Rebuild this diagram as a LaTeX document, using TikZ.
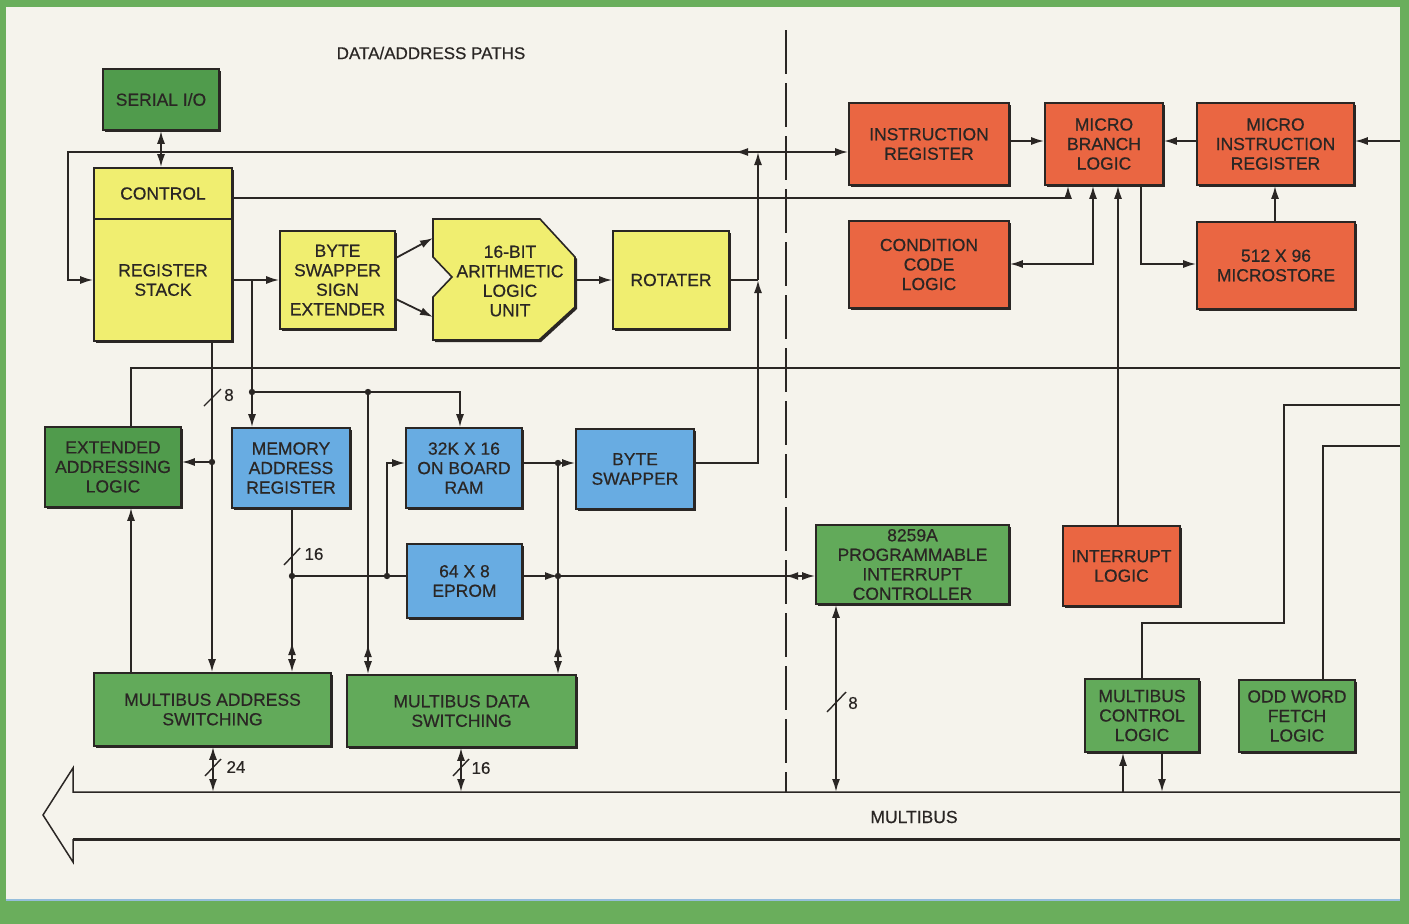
\documentclass[tikz,border=0pt]{standalone}
\usepackage{fontspec}
\setmainfont{Liberation Sans}[FakeBold=0.5]
\usetikzlibrary{arrows.meta,shadows,decorations.markings,calc}
\definecolor{ink}{RGB}{42,38,36}
\definecolor{paper}{RGB}{245,243,236}
\definecolor{frame}{RGB}{106,174,92}
\definecolor{gbox}{RGB}{98,170,90}
\definecolor{gdark}{RGB}{80,155,76}
\definecolor{ybox}{RGB}{240,238,112}
\definecolor{bbox}{RGB}{104,172,226}
\definecolor{rbox}{RGB}{234,102,66}
\definecolor{edgeblue}{RGB}{150,190,220}
\tikzset{
  box/.style={draw=ink, line width=1.6pt, align=center, inner sep=0pt, text=ink,
    font=\fontsize{17.5}{19.5}\selectfont,
    drop shadow={shadow xshift=2pt, shadow yshift=-2pt, fill=ink, opacity=1}},
  line/.style={draw=ink, line width=1.8pt},
  >={Latex[length=13pt,width=8pt]},
  dbl/.style={->, decoration={markings, mark=at position -30pt with {\arrowreversed{Latex[length=13pt,width=8pt]}}}, postaction={decorate}},
  midarrow/.style={decoration={markings, mark=at position 23pt with {\arrow{Latex[length=13pt,width=8pt]}}}, postaction={decorate}},
  num/.style={text=ink, font=\fontsize{17}{19}\selectfont, inner sep=0pt},
  slash/.style={draw=ink, line width=1.4pt},
  jdot/.style={fill=ink}
}
\begin{document}
\begin{tikzpicture}[x=1pt,y=-1pt]
\useasboundingbox (0,0) rectangle (1409,924);
\fill[frame] (0,0) rectangle (1409,924);
\fill[paper] (6,7) rectangle (1400,900);
\draw[edgeblue, line width=1.5pt] (6,900) -- (1400,900);

% title
\node[num, font=\fontsize{17}{19}\selectfont] (title) at (431,53) {DATA/ADDRESS PATHS};

% dashed separator
\coordinate (dashTop) at (786,30);
\coordinate (dashBot) at (786,792);
\draw[ink, line width=1.8pt, dash pattern=on 44pt off 9pt] (dashTop) -- (dashBot);

% ---------- boxes ----------
\node[box, fill=gdark, minimum width=116pt, minimum height=61pt] (sio) at (161,99.5) {SERIAL I/O};
\node[box, fill=ybox, minimum width=138pt, minimum height=51pt] (ctrl) at (163,193.5) {CONTROL};
\node[box, fill=ybox, minimum width=138pt, minimum height=122pt] (reg) at (163,280) {REGISTER\\STACK};
\node[box, fill=ybox, minimum width=115pt, minimum height=98pt] (bsse) at (337.5,280) {BYTE\\SWAPPER\\SIGN\\EXTENDER};

% ALU shape
\fill[ink, shift={(2,2)}] (433,219) -- (540,219) -- (575,257) -- (575,307) -- (539,340) -- (433,340) -- (433,297) -- (452,277) -- (433,257) -- cycle;
\draw[ink, line width=1.6pt, fill=ybox] (433,219) -- (540,219) -- (575,257) -- (575,307) -- (539,340) -- (433,340) -- (433,297) -- (452,277) -- (433,257) -- cycle;
\node[text=ink, align=center, inner sep=0pt, font=\fontsize{17.5}{19.5}\selectfont] (alu) at (510,281) {16-BIT\\ARITHMETIC\\LOGIC\\UNIT};
\coordinate (aluIn1) at (433,238);
\coordinate (aluIn2) at (433,317);
\coordinate (aluOut) at (575,280);

\node[box, fill=ybox, minimum width=116pt, minimum height=98pt] (rot) at (671,280) {ROTATER};

\node[box, fill=rbox, minimum width=160pt, minimum height=82pt] (ir) at (929,144) {INSTRUCTION\\REGISTER};
\node[box, fill=rbox, minimum width=118pt, minimum height=82pt] (mbl) at (1104,144) {MICRO\\BRANCH\\LOGIC};
\node[box, fill=rbox, minimum width=157pt, minimum height=82pt] (mir) at (1275.5,144) {MICRO\\INSTRUCTION\\REGISTER};
\node[box, fill=rbox, minimum width=160pt, minimum height=87pt] (ccl) at (929,264.5) {CONDITION\\CODE\\LOGIC};
\node[box, fill=rbox, minimum width=158pt, minimum height=87pt] (ms) at (1276,265.5) {512 X 96\\MICROSTORE};

\node[box, fill=gdark, minimum width=136pt, minimum height=80pt] (eal) at (113,467) {EXTENDED\\ADDRESSING\\LOGIC};
\node[box, fill=bbox, minimum width=118pt, minimum height=80pt] (mar) at (291,468) {MEMORY\\ADDRESS\\REGISTER};
\node[box, fill=bbox, minimum width=116pt, minimum height=80pt] (ram) at (464,468) {32K X 16\\ON BOARD\\RAM};
\node[box, fill=bbox, minimum width=118pt, minimum height=80pt] (bsw) at (635,469) {BYTE\\SWAPPER};
\node[box, fill=bbox, minimum width=115pt, minimum height=74pt] (eprom) at (464.5,581) {64 X 8\\EPROM};

\node[box, fill=gbox, minimum width=193pt, minimum height=79pt] (pic) at (912.5,564.5) {8259A\\PROGRAMMABLE\\INTERRUPT\\CONTROLLER};
\node[box, fill=rbox, minimum width=117pt, minimum height=80pt] (intl) at (1121.5,566) {INTERRUPT\\LOGIC};

\node[box, fill=gbox, minimum width=237pt, minimum height=73pt] (mas) at (212.5,709.5) {MULTIBUS ADDRESS\\SWITCHING};
\node[box, fill=gbox, minimum width=229pt, minimum height=72pt] (mds) at (461.5,711) {MULTIBUS DATA\\SWITCHING};
\node[box, fill=gbox, minimum width=114pt, minimum height=73pt] (mcl) at (1142,715.5) {MULTIBUS\\CONTROL\\LOGIC};
\node[box, fill=gbox, minimum width=116pt, minimum height=72pt] (owf) at (1297,716) {ODD WORD\\FETCH\\LOGIC};

% ---------- bus ----------
\coordinate (busL) at (73,792);
\coordinate (busR) at (1400,792);
\coordinate (busL2) at (73,839);
\coordinate (busR2) at (1400,839);
\coordinate (busTip) at (43,815);
\draw[ink, line width=1.5pt] (busR) -- (busL) -- (73,768) -- (busTip) -- (73,862) -- (busL2);
\draw[ink, line width=3pt] (busL2) -- (busR2);
\node[num, font=\fontsize{17.5}{19}\selectfont] (mbus) at (914,817) {MULTIBUS};

% ---------- junction coordinates ----------
\coordinate (jTop) at (758,152);
\coordinate (cTL) at (68,152);
\coordinate (cBL) at (68,280);
\coordinate (jRot) at (758,280);
\coordinate (cBsw) at (758,463);
\coordinate (jReg) at (252,280);
\coordinate (jMar) at (252,392);
\coordinate (jMds) at (368,392);
\coordinate (jEal) at (212,462);
\coordinate (j16) at (292,576);
\coordinate (jRom) at (387,576);
\coordinate (jR) at (558,463);
\coordinate (jE) at (558,576);
\coordinate (e141) at (1400,141);
\coordinate (e368) at (1400,368);
\coordinate (e405) at (1400,405);
\coordinate (e446) at (1400,446);

% ---------- connectors ----------
\draw[line,<->] (sio.south) -- (sio.south |- ctrl.north);
\draw[line,->] (jTop) -- (ir.west |- jTop);
\draw[line,->,midarrow] (jTop) -- (cTL) -- (cBL) -- (reg.west |- cBL);
\draw[line,->] (jRot) -- (jTop);
\draw[line] (rot.east) -- (jRot);
\draw[line,->] (bsw.east |- cBsw) -- (cBsw) -- (jRot);
\draw[line,->] (ctrl.east |- 0,198) -- (1068,198) -- (mbl.south -| 1068,0);

\draw[line,->] (reg.east) -- (bsse.west);
\draw[line,->] (bsse.east |- 0,258) -- (aluIn1);
\draw[line,->] (bsse.east |- 0,299) -- (aluIn2);
\draw[line,->] (aluOut) -- (rot.west);

\draw[line,->] (jReg) -- (mar.north -| jReg);
\draw[line,->] (jMar) -- (460,392) -- (ram.north -| 460,0);
\draw[line,dbl] (jMds) -- (mds.north -| jMds);
\draw[line,->] (reg.south -| 212,0) -- (mas.north -| 212,0);
\draw[line,->] (jEal) -- (eal.east |- jEal);
\draw[line] (eal.north -| 131,0) -- (131,368) -- (e368);
\draw[line,->] (mas.north -| 131,0) -- (eal.south -| 131,0);
\draw[line,dbl] (mar.south -| j16) -- (mas.north -| j16);
\draw[line] (j16) -- (eprom.west |- j16);
\draw[line,->] (jRom) -- (387,463) -- (ram.west |- jR);
\draw[line,->] (ram.east |- jR) -- (bsw.west |- jR);
\draw[line,->] (eprom.east |- jE) -- (jE);
\draw[line,dbl] (jE) -- (pic.west |- jE);
\draw[line,dbl] (jR) -- (mds.north -| jR);

\draw[line,<->] (mas.south -| 213,0) -- (busL -| 213,0);
\draw[line,<->] (mds.south -| 461,0) -- (busL -| 461,0);
\draw[line,<->] (pic.south -| 836,0) -- (busL -| 836,0);

\draw[line,->] (ir.east |- e141) -- (mbl.west |- e141);
\draw[line,->] (mir.west |- e141) -- (mbl.east |- e141);
\draw[line,->] (e141) -- (mir.east |- e141);
\draw[line,->] (ms.north -| 1275,0) -- (mir.south -| 1275,0);
\draw[line,<->] (mbl.south -| 1093,0) -- (1093,264) -- (ccl.east |- 0,264);
\draw[line,->] (mbl.south -| 1141,0) -- (1141,264) -- (ms.west |- 0,264);
\draw[line,->] (intl.north -| 1118,0) -- (mbl.south -| 1118,0);
\draw[line] (e405) -- (1284,405) -- (1284,623) -- (1142,623) -- (mcl.north);
\draw[line] (e446) -- (1323,446) -- (owf.north -| 1323,0);
\draw[line,->] (busL -| 1123,0) -- (mcl.south -| 1123,0);
\draw[line,->] (mcl.south -| 1162,0) -- (busL -| 1162,0);

% junction dots
\foreach \p in {jMar,jMds,jEal,j16,jRom,jR,jE} \fill[jdot] (\p) circle (3.2pt);

% bus width marks
\draw[slash] (204,406) -- (221,389);
\node[num] (w8a) at (229,395) {8};
\draw[slash] (284,565) -- (300,548);
\node[num] (w16a) at (314,554) {16};
\draw[slash] (205,776) -- (221,759);
\node[num] (w24) at (236,767) {24};
\draw[slash] (453,776) -- (469,759);
\node[num] (w16b) at (481,768) {16};
\draw[slash] (827,712) -- (846,692);
\node[num] (w8b) at (853,703) {8};
\end{tikzpicture}
\end{document}
